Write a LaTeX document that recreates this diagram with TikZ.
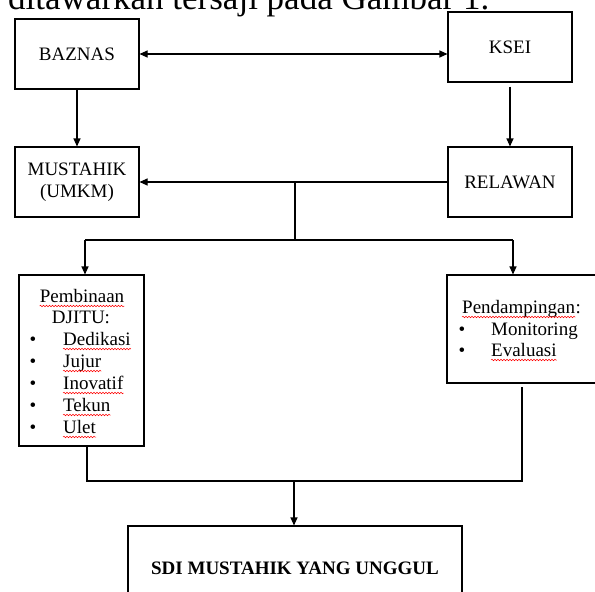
\documentclass[tikz,border=0pt]{standalone}
\usepackage{fontspec}
\setmainfont{Liberation Serif}
\usetikzlibrary{arrows.meta,calc,decorations.pathmorphing}
\tikzset{
  box/.style={draw=black, line width=1.1pt, rectangle, inner sep=0pt, align=center,
    font=\fontsize{19}{22}\selectfont},
  txt/.style={inner sep=0pt, anchor=base west, font=\fontsize{19}{22}\selectfont},
  ctxt/.style={inner sep=0pt, anchor=base, font=\fontsize{19}{22}\selectfont},
  conn/.style={line width=1.1pt, draw=black},
  arr/.style={conn, -{Triangle[length=8pt,width=7pt]}},
  wavy/.style={draw=red, line width=0.5pt, decorate,
    decoration={snake, amplitude=0.8pt, segment length=3pt}}
}
\begin{document}
\begin{tikzpicture}[x=1pt,y=-1pt]
\useasboundingbox (0,0) rectangle (595,592);
\clip (0,0) rectangle (595,592);
% cut-off caption line at the top
\node[inner sep=0pt, anchor=base west, font=\fontsize{35}{40}\selectfont] (cap) at (8,9) {ditawarkan tersaji pada Gambar 1.};
% boxes
\node[box, minimum width=124pt, minimum height=70pt] (baz) at (77,54) {BAZNAS};
\node[box, minimum width=124pt, minimum height=70pt] (ksei) at (510,47) {KSEI};
\node[box, minimum width=124pt, minimum height=70pt] (must) at (77,182) {MUSTAHIK\\(UMKM)};
\node[box, minimum width=124pt, minimum height=70pt] (rel) at (510,182) {RELAWAN};
\node[box, minimum width=125pt, minimum height=171pt] (pemb) at (81.5,360.5) {};
\node[box, minimum width=153pt, minimum height=108pt] (pend) at (523.5,329) {};
\node[box, minimum width=334pt, minimum height=84pt, font=\bfseries\fontsize{19}{22}\selectfont] (sdi) at (295,568) {SDI MUSTAHIK YANG UNGGUL};
% Pembinaan text
\node[ctxt] (pw) at (82,302) {Pembinaan};
\node[ctxt] (dj) at (81,323) {DJITU:};
\foreach \w/\n/\yy in {Dedikasi/ia/345, Jujur/ib/367, Inovatif/ic/389, Tekun/id/411, Ulet/ie/433}{
  \node[ctxt] (b\n) at (33,\yy) {•};
  \node[txt] (\n) at (63,\yy) {\w};
  \draw[wavy] ($(\n.base west)+(0,4)$) -- ($(\n.base east)+(0,4)$);
}
\draw[wavy] ($(pw.base west)+(0,4)$) -- ($(pw.base east)+(0,4)$);
% Pendampingan text
\node[txt] (pdw) at (462,313) {Pendampingan};
\node[txt] (pdc) at (pdw.base east) {:};
\draw[wavy] ($(pdw.base west)+(0,4)$) -- ($(pdw.base east)+(0,4)$);
\node[ctxt] (bm) at (462,335) {•};
\node[txt] (mon) at (491,335) {Monitoring};
\node[ctxt] (be) at (462,356) {•};
\node[txt] (eva) at (491,356) {Evaluasi};
\draw[wavy] ($(eva.base west)+(0,4)$) -- ($(eva.base east)+(0,4)$);
% connectors
\draw[conn, {Triangle[length=8pt,width=7pt]}-{Triangle[length=8pt,width=7pt]}] (baz.east) -- (baz.east -| ksei.west);
\draw[arr] (baz.south) -- (must.north);
\draw[arr, shorten <=4pt] (ksei.south) -- (rel.north);
\draw[arr] (rel.west) -- (must.east);
\coordinate (j1) at (295,182);
\coordinate (j2) at (295,240);
\coordinate (L1) at (85,240);
\coordinate (R1) at (513,240);
\draw[conn] (j1) -- (j2);
\draw[conn] (L1) -- (R1);
\draw[arr] (L1) -- (L1 |- pemb.north);
\draw[arr] (R1) -- (R1 |- pend.north);
\coordinate (B1) at (87,481);
\coordinate (B2) at (522,481);
\coordinate (B3) at (522,387);
\coordinate (B0) at (294,481);
\draw[conn] (B1 |- pemb.south) -- (B1) -- (B2) -- (B3);
\draw[arr] (B0) -- (B0 |- sdi.north);
\end{tikzpicture}
\end{document}
